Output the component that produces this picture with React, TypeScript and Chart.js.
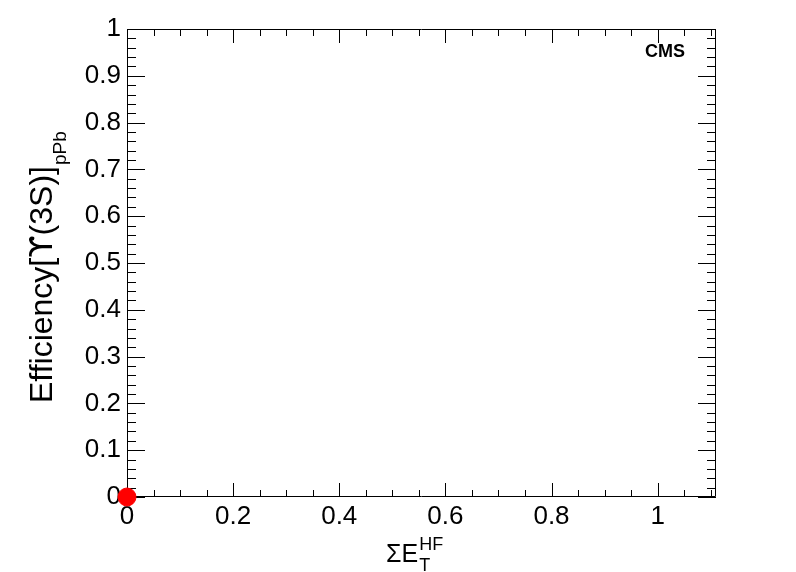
import React, { useEffect, useRef } from "react";
import { Chart, registerables } from "chart.js";

Chart.register(...registerables);

const xValues = [0];
const yValues = [0];
const xTickLabels = [0, 0.2, 0.4, 0.6, 0.8, 1];
const yTickLabels = [0, 0.1, 0.2, 0.3, 0.4, 0.5, 0.6, 0.7, 0.8, 0.9, 1];
const xRange = [0, 1.11];
const yRange = [0, 1];
const xMinorStep = 0.05;
const yMinorStep = 0.02;

const FONT = "'Liberation Sans', Arial, Helvetica, sans-serif";
const SYM = "'DejaVu Sans', sans-serif";

const frameTicksPlugin = {
  id: "frameTicks",
  beforeDatasetsDraw(chart: any) {
    const { ctx, chartArea } = chart;
    const { left, right, top, bottom } = chartArea;
    const xs = chart.scales.x;
    const ys = chart.scales.y;
    ctx.save();
    ctx.strokeStyle = "#000";
    ctx.lineWidth = 1;
    ctx.beginPath();
    ctx.rect(left + 0.5, top + 0.5, right - left - 1, bottom - top - 1);
    ctx.stroke();
    ctx.beginPath();
    const nx = Math.round((xs.max - xs.min) / xMinorStep);
    for (let i = 0; i <= nx; i++) {
      const v = xs.min + i * xMinorStep;
      const major = Math.abs(v / 0.2 - Math.round(v / 0.2)) < 1e-6;
      const len = major ? 14 : 7;
      const px = Math.round(xs.getPixelForValue(v)) + 0.5;
      ctx.moveTo(px, bottom);
      ctx.lineTo(px, bottom - len);
      ctx.moveTo(px, top);
      ctx.lineTo(px, top + len);
    }
    const ny = Math.round((ys.max - ys.min) / yMinorStep);
    for (let i = 0; i <= ny; i++) {
      const v = ys.min + i * yMinorStep;
      const major = Math.abs(v / 0.1 - Math.round(v / 0.1)) < 1e-6;
      const len = major ? 18 : 9;
      const py = Math.round(ys.getPixelForValue(v)) + 0.5;
      ctx.moveTo(left, py);
      ctx.lineTo(left + len, py);
      ctx.moveTo(right, py);
      ctx.lineTo(right - len, py);
    }
    ctx.stroke();
    ctx.restore();
  },
  afterDraw(chart: any) {
    const { ctx } = chart;
    ctx.save();
    ctx.fillStyle = "#000";
    ctx.textBaseline = "alphabetic";
    ctx.font = `bold 18px ${FONT}`;
    ctx.textAlign = "left";
    ctx.fillText("CMS", 645, 57);

    ctx.font = `25px ${FONT}`;
    const main = "ΣE";
    ctx.fillText(main, 386, 562);
    const w = ctx.measureText(main).width;
    ctx.font = `18px ${FONT}`;
    ctx.fillText("HF", 386 + w + 1, 550);
    ctx.fillText("T", 386 + w + 1, 571);

    ctx.translate(52, 403);
    ctx.rotate(-Math.PI / 2);
    const parts: [string, string][] = [
      ["Efficiency[", FONT],
      ["ϒ", SYM],
      ["(3S)]", FONT],
    ];
    let pos = 0;
    for (const [t, f] of parts) {
      ctx.font = `32px ${f}`;
      ctx.fillText(t, pos, 0);
      pos += ctx.measureText(t).width;
    }
    ctx.font = `19px ${FONT}`;
    ctx.fillText("pPb", pos + 1, 14);
    ctx.restore();
  },
};

export default function App() {
  const ref = useRef<HTMLCanvasElement | null>(null);
  useEffect(() => {
    document.body.style.margin = "0";
    if (!ref.current) return;
    const chart = new Chart(ref.current, {
      type: "scatter",
      data: {
        datasets: [
          {
            data: xValues.map((x, i) => ({ x, y: yValues[i] })),
            backgroundColor: "#ff0000",
            borderColor: "#ff0000",
            pointRadius: 9,
            pointHoverRadius: 9,
            clip: false as any,
          },
        ],
      },
      options: {
        responsive: false,
        animation: false,
        layout: { padding: { top: 29, right: 80, left: 0, bottom: 0 } },
        plugins: { legend: { display: false }, tooltip: { enabled: false } },
        scales: {
          x: {
            type: "linear",
            min: xRange[0],
            max: xRange[1],
            grid: { display: false, drawTicks: false },
            border: { display: false },
            afterBuildTicks: (s: any) => {
              s.ticks = xTickLabels.map((v) => ({ value: v }));
            },
            afterFit: (s: any) => {
              s.height = 75;
            },
            ticks: {
              color: "#000",
              font: { family: FONT, size: 26 },
              padding: 4,
              maxRotation: 0,
              autoSkip: false,
              callback: (v: any) => String(Math.round(Number(v) * 10) / 10),
            },
          },
          y: {
            type: "linear",
            min: yRange[0],
            max: yRange[1],
            grid: { display: false, drawTicks: false },
            border: { display: false },
            afterBuildTicks: (s: any) => {
              s.ticks = yTickLabels.map((v) => ({ value: v }));
            },
            afterFit: (s: any) => {
              s.width = 127;
            },
            ticks: {
              color: "#000",
              font: { family: FONT, size: 26 },
              padding: 6,
              autoSkip: false,
              callback: (v: any) => String(Math.round(Number(v) * 10) / 10),
            },
          },
        },
      },
      plugins: [frameTicksPlugin],
    });
    return () => chart.destroy();
  }, []);
  return (
    <div style={{ width: 796, height: 572 }}>
      <canvas ref={ref} width={796} height={572} style={{ display: "block" }} />
    </div>
  );
}
